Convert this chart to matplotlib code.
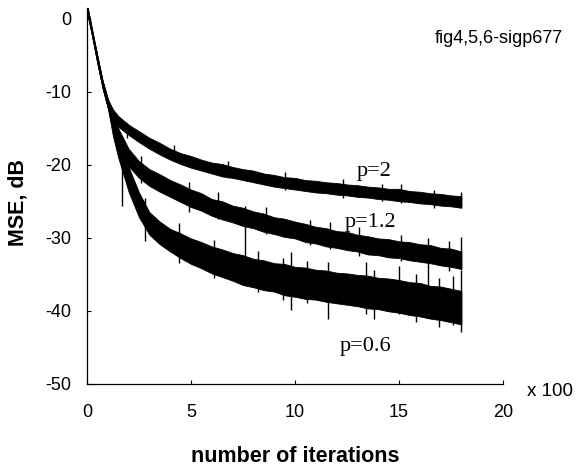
import matplotlib
matplotlib.use("Agg")
import matplotlib.pyplot as plt

# ---------------- data ----------------
x_pts = [0, 0.25, 0.5, 0.75, 1.0, 1.25, 1.5, 2, 2.5, 3, 3.5, 4, 4.5, 5, 5.5, 6, 6.5,
         7, 7.5, 8, 8.5, 9, 9.5, 10, 10.5, 11, 11.5, 12, 12.5, 13, 13.5, 14, 14.5,
         15, 15.5, 16, 16.5, 17, 17.5, 18]

p2_upper = [2.0, -1.6, -5.1, -8.5, -11.0, -12.4, -13.3, -14.5, -15.4, -16.3, -17.0, -17.8,
            -18.4, -18.8, -19.3, -19.7, -19.9, -20.3, -20.6, -20.8, -21.2, -21.4, -21.7,
            -21.8, -22.1, -22.2, -22.4, -22.5, -22.7, -22.8, -23.0, -23.1, -23.3, -23.3,
            -23.6, -23.7, -23.9, -24.0, -24.2, -24.3]
p2_lower = [1.0, -2.4, -6.1, -9.5, -12.2, -13.9, -14.8, -15.9, -16.9, -17.8, -18.6, -19.3,
            -19.9, -20.4, -20.8, -21.2, -21.6, -21.8, -22.1, -22.4, -22.7, -23.0, -23.2,
            -23.4, -23.6, -23.8, -23.9, -24.1, -24.2, -24.4, -24.5, -24.7, -24.8, -25.0,
            -25.1, -25.3, -25.4, -25.6, -25.7, -25.9]

p12_upper = [2.0, -1.6, -5.1, -8.5, -11.0, -13.4, -15.0, -17.8, -19.5, -20.6, -21.3, -22.1,
             -22.7, -23.4, -23.9, -24.7, -25.0, -25.6, -25.9, -26.4, -26.7, -27.2, -27.4,
             -27.8, -28.1, -28.5, -28.7, -29.1, -29.2, -29.6, -29.8, -30.1, -30.2, -30.5,
             -30.6, -30.9, -31.0, -31.4, -31.5, -31.9]
p12_lower = [1.0, -2.4, -6.1, -9.5, -12.2, -15.2, -17.1, -20.2, -21.8, -22.9, -23.7, -24.4,
             -25.1, -25.8, -26.3, -27.0, -27.5, -27.9, -28.4, -28.7, -29.2, -29.5, -29.9,
             -30.1, -30.6, -30.8, -31.2, -31.4, -31.7, -31.9, -32.3, -32.4, -32.7, -32.8,
             -33.1, -33.3, -33.5, -33.8, -34.0, -34.3]

p06_upper = [2.0, -1.6, -5.1, -8.5, -11.0, -13.9, -16.0, -20.3, -23.8, -26.5, -27.8, -28.8,
             -29.4, -30.1, -30.6, -31.2, -31.6, -32.1, -32.4, -32.9, -33.1, -33.5, -33.6,
             -34.0, -34.1, -34.4, -34.5, -34.8, -34.9, -35.1, -35.2, -35.5, -35.6, -35.8,
             -36.1, -36.2, -36.6, -36.7, -37.0, -37.3]
p06_lower = [1.0, -2.4, -6.1, -9.5, -12.2, -16.1, -19.0, -23.7, -27.2, -29.6, -30.9, -31.9,
             -32.8, -33.6, -34.2, -34.9, -35.4, -35.9, -36.5, -36.8, -37.2, -37.4, -37.9,
             -38.1, -38.4, -38.5, -38.8, -39.0, -39.2, -39.4, -39.7, -39.8, -40.1, -40.3,
             -40.6, -40.8, -41.1, -41.3, -41.6, -41.9]

# noise spikes: x position, top, bottom
p2_spike_x = [1.9, 4.2, 6.8, 9.5, 12.3, 14.2, 15.1, 16.7, 18.0]
p2_spike_top = [-14.3, -17.3, -19.5, -21.0, -22.0, -22.7, -22.6, -23.4, -23.7]
p2_spike_bot = [-16.3, -19.5, -21.8, -23.5, -24.5, -25.0, -25.2, -25.9, -25.8]

p12_spike_x = [2.6, 4.9, 6.3, 8.6, 10.7, 11.7, 13.1, 15.1, 16.4, 17.4, 18.0]
p12_spike_top = [-18.8, -22.4, -23.8, -25.8, -27.6, -27.8, -28.6, -29.6, -30.0, -30.4, -29.9]
p12_spike_bot = [-22.5, -26.5, -27.5, -29.5, -31.0, -31.5, -32.5, -33.2, -34.0, -34.6, -34.3]

p06_spike_x = [1.7, 2.8, 4.4, 6.1, 7.6, 8.2, 9.4, 9.8, 10.6, 11.6, 13.4, 13.8, 15.0, 15.8,
               16.4, 16.9, 17.6, 18.0]
p06_spike_top = [-16.0, -24.5, -28.0, -30.3, -25.7, -31.8, -32.8, -32.0, -33.2, -33.4, -33.3,
                 -34.5, -33.9, -35.0, -33.9, -35.5, -35.2, -34.4]
p06_spike_bot = [-25.7, -30.5, -33.5, -35.5, -36.5, -37.5, -38.5, -39.9, -39.0, -41.2, -40.5,
                 -41.2, -40.5, -41.5, -41.0, -42.2, -42.0, -42.9]

curve_labels = ["p=2", "p=1.2", "p=0.6"]
x_ticks = [0, 5, 10, 15, 20]
y_ticks = [0, -10, -20, -30, -40, -50]

# ---------------- figure ----------------
W, H = 578, 468
fig = plt.figure(figsize=(W / 100, H / 100), dpi=100)
ax = fig.add_axes([87 / W, 1 - 383.5 / H, 416 / W, (383.5 - 8) / H])

bands = [(p2_upper, p2_lower), (p12_upper, p12_lower), (p06_upper, p06_lower)]
for up, lo in bands:
    ax.fill_between(x_pts, lo, up, color="black", linewidth=0.6, edgecolor="black")

for sx, st, sb in [(p2_spike_x, p2_spike_top, p2_spike_bot),
                   (p12_spike_x, p12_spike_top, p12_spike_bot),
                   (p06_spike_x, p06_spike_top, p06_spike_bot)]:
    ax.vlines(sx, sb, st, color="black", linewidth=1.0)

ax.set_xlim(0, 20)
ax.set_ylim(-50, 1.5)
ax.set_xticks(x_ticks)
ax.set_yticks(y_ticks)
ax.set_xticklabels([str(v) for v in x_ticks])
ax.set_yticklabels([str(v) for v in y_ticks])

for s in ["top", "right"]:
    ax.spines[s].set_visible(False)
for s in ["left", "bottom"]:
    ax.spines[s].set_linewidth(0.9)

ax.tick_params(axis="both", direction="in", length=3, width=0.8,
               labelsize=13)
ax.tick_params(axis="x", pad=15)
ax.tick_params(axis="y", pad=11)
for lab in ax.get_xticklabels() + ax.get_yticklabels():
    lab.set_fontfamily("Liberation Sans")

# curve labels (serif)
label_pos = [(12.98, -21.5), (12.4, -28.6), (12.16, -45.5)]
for txt, (lx, ly) in zip(curve_labels, label_pos):
    ax.text(lx, ly, txt, family="Liberation Serif", fontsize=16,
            ha="left", va="baseline")

fig.text(295 / W, 1 - 462 / H, "number of iterations", family="Liberation Sans",
         fontsize=15.5, fontweight="bold", ha="center", va="baseline")
fig.text(18 / W, 1 - 202 / H, "MSE, dB", family="Liberation Sans",
         fontsize=15.5, fontweight="bold", ha="center", va="center", rotation=90)
fig.text(527 / W, 1 - 396 / H, "x 100", family="Liberation Sans",
         fontsize=13.5, ha="left", va="baseline")
fig.text(563 / W, 1 - 43 / H, "fig4,5,6-sigp677", family="Liberation Sans",
         fontsize=13, ha="right", va="baseline")

fig.savefig("out.png", dpi=100)
